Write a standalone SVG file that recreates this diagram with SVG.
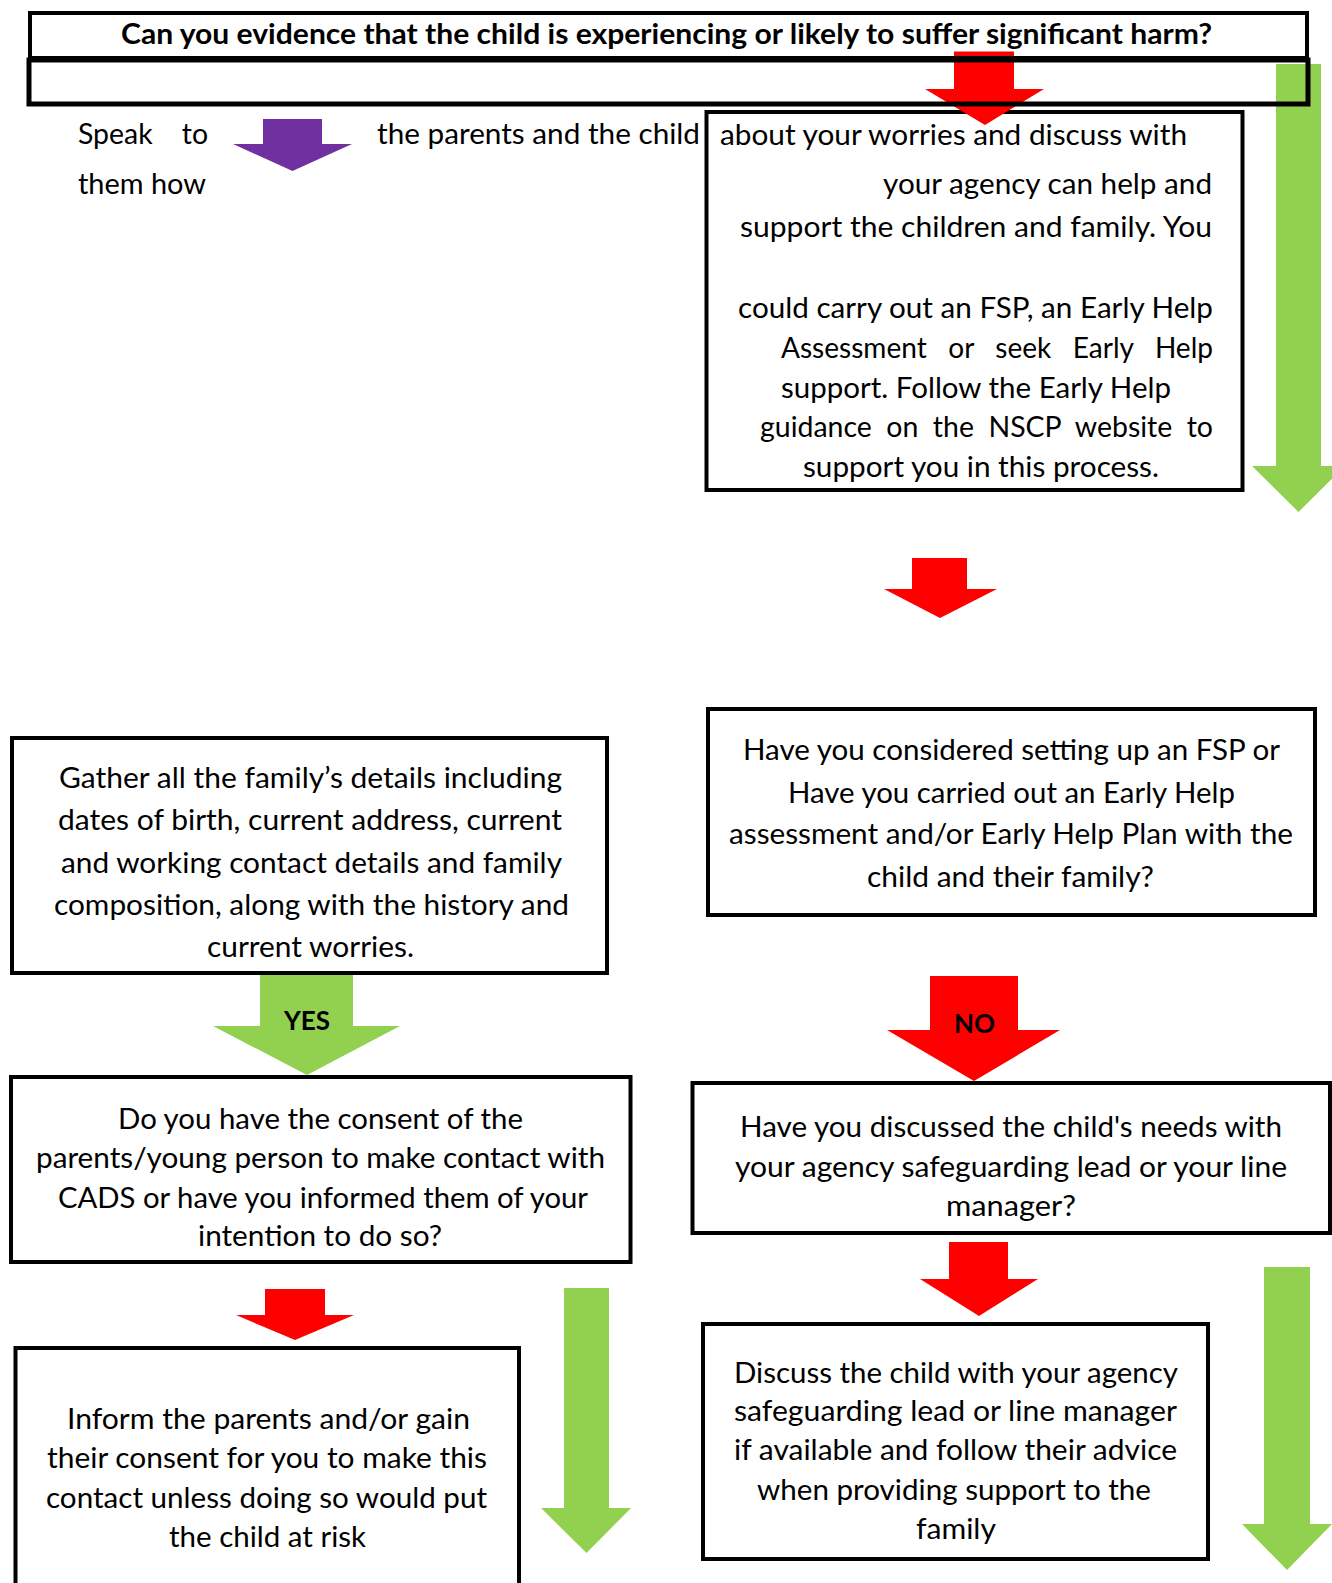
<svg xmlns="http://www.w3.org/2000/svg" width="1332" height="1583" viewBox="0 0 1332 1583">
<style>
.bg{fill:#ffffff}
.box{fill:none;stroke:#000;stroke-width:4}
.t{font-family:Lato,"Open Sans","Liberation Sans",sans-serif;font-size:28px;fill:#000}
.b{font-family:Lato,"Open Sans","Liberation Sans",sans-serif;font-weight:bold;fill:#000}
.pre{white-space:pre}
.red{fill:#FF0000}
.green{fill:#92D050}
.purple{fill:#7030A0}
</style>
<rect class="bg" x="0" y="0" width="1332" height="1583"/>

<g id="speak-text">
<text class="t pre" x="78" y="144" textLength="130" lengthAdjust="spacingAndGlyphs">Speak    to</text>
<text class="t" x="78" y="194" textLength="128" lengthAdjust="spacingAndGlyphs">them how</text>
<text class="t" x="377" y="144" textLength="323" lengthAdjust="spacingAndGlyphs">the parents and the child</text>
</g>

<g id="box-early-help">
<rect class="box" x="706.5" y="112" width="536" height="378"/>
<text class="t" x="720" y="145" textLength="467" lengthAdjust="spacingAndGlyphs">about your worries and discuss with</text>
<text class="t" x="883" y="194" textLength="329" lengthAdjust="spacingAndGlyphs">your agency can help and</text>
<text class="t" x="740" y="237" textLength="472" lengthAdjust="spacingAndGlyphs">support the children and family. You</text>
<text class="t" x="738" y="318" textLength="475" lengthAdjust="spacingAndGlyphs">could carry out an FSP, an Early Help</text>
<text class="t pre" x="781" y="358" textLength="432" lengthAdjust="spacingAndGlyphs">Assessment   or   seek   Early   Help</text>
<text class="t" x="781" y="398" textLength="390" lengthAdjust="spacingAndGlyphs">support. Follow the Early Help</text>
<text class="t pre" x="760" y="437" textLength="453" lengthAdjust="spacingAndGlyphs">guidance  on  the  NSCP  website  to</text>
<text class="t" x="803" y="477" textLength="356" lengthAdjust="spacingAndGlyphs">support you in this process.</text>
</g>

<g id="box-considered-fsp">
<rect class="box" x="708" y="709" width="607" height="206"/>
<text class="t" x="743" y="760" textLength="537" lengthAdjust="spacingAndGlyphs">Have you considered setting up an FSP or</text>
<text class="t" x="788" y="803" textLength="447" lengthAdjust="spacingAndGlyphs">Have you carried out an Early Help</text>
<text class="t" x="729" y="844" textLength="564" lengthAdjust="spacingAndGlyphs">assessment and/or Early Help Plan with the</text>
<text class="t" x="867" y="887" textLength="287" lengthAdjust="spacingAndGlyphs">child and their family?</text>
</g>

<g id="box-gather-details">
<rect class="box" x="12" y="738" width="595" height="235"/>
<text class="t" x="59" y="788" textLength="503" lengthAdjust="spacingAndGlyphs">Gather all the family’s details including</text>
<text class="t" x="58" y="830" textLength="504" lengthAdjust="spacingAndGlyphs">dates of birth, current address, current</text>
<text class="t" x="61" y="872.5" textLength="501" lengthAdjust="spacingAndGlyphs">and working contact details and family</text>
<text class="t" x="54" y="915" textLength="515" lengthAdjust="spacingAndGlyphs">composition, along with the history and</text>
<text class="t" x="207" y="957" textLength="207" lengthAdjust="spacingAndGlyphs">current worries.</text>
</g>

<g id="box-consent">
<rect class="box" x="11" y="1077" width="619.5" height="185"/>
<text class="t" x="118" y="1129" textLength="405" lengthAdjust="spacingAndGlyphs">Do you have the consent of the</text>
<text class="t" x="36" y="1168" textLength="569" lengthAdjust="spacingAndGlyphs">parents/young person to make contact with</text>
<text class="t" x="58" y="1208" textLength="530" lengthAdjust="spacingAndGlyphs">CADS or have you informed them of your</text>
<text class="t" x="198" y="1246" textLength="244" lengthAdjust="spacingAndGlyphs">intention to do so?</text>
</g>

<g id="box-discussed-needs">
<rect class="box" x="692.5" y="1083" width="637.5" height="150"/>
<text class="t" x="740" y="1137" textLength="542" lengthAdjust="spacingAndGlyphs">Have you discussed the child's needs with</text>
<text class="t" x="735" y="1176.5" textLength="552" lengthAdjust="spacingAndGlyphs">your agency safeguarding lead or your line</text>
<text class="t" x="946" y="1216" textLength="130" lengthAdjust="spacingAndGlyphs">manager?</text>
</g>

<g id="box-inform-parents">
<rect class="box" x="15.5" y="1348" width="503.5" height="260"/>
<text class="t" x="67" y="1429" textLength="403" lengthAdjust="spacingAndGlyphs">Inform the parents and/or gain</text>
<text class="t" x="47" y="1468" textLength="440" lengthAdjust="spacingAndGlyphs">their consent for you to make this</text>
<text class="t" x="46" y="1508" textLength="441" lengthAdjust="spacingAndGlyphs">contact unless doing so would put</text>
<text class="t" x="169" y="1547" textLength="197" lengthAdjust="spacingAndGlyphs">the child at risk</text>
</g>

<g id="box-discuss-child">
<rect class="box" x="703" y="1324" width="505" height="235"/>
<text class="t" x="734" y="1382.5" textLength="444" lengthAdjust="spacingAndGlyphs">Discuss the child with your agency</text>
<text class="t" x="734" y="1421" textLength="443" lengthAdjust="spacingAndGlyphs">safeguarding lead or line manager</text>
<text class="t" x="734" y="1460" textLength="443" lengthAdjust="spacingAndGlyphs">if available and follow their advice</text>
<text class="t" x="757" y="1500" textLength="394" lengthAdjust="spacingAndGlyphs">when providing support to the</text>
<text class="t" x="916" y="1539" textLength="80" lengthAdjust="spacingAndGlyphs">family</text>
</g>

<g id="connectors">
<polygon class="purple" points="263,119 322,119 322,144 352,144 292.5,171 233,144 263,144"/>
<polygon class="red" points="954,51.5 1014,51.5 1014,89 1044,89 985,125 925,89 954,89"/>
<polygon class="green" points="1276,64 1321,64 1321,466 1345,466 1298.5,512 1252,466 1276,466"/>
<polygon class="red" points="912,558 967,558 967,589 997,589 940,618 884,589 912,589"/>
<polygon class="green" points="260,975 353,975 353,1026 400,1026 307,1075 213,1026 260,1026"/>
<polygon class="red" points="930,976 1018,976 1018,1030 1060,1030 974,1081 887,1030 930,1030"/>
<polygon class="red" points="265,1289 325,1289 325,1315 354,1315 295,1340 236,1315 265,1315"/>
<polygon class="red" points="949,1242 1008,1242 1008,1279 1038,1279 979,1316 920,1279 949,1279"/>
<polygon class="green" points="564,1288 609,1288 609,1508 631,1508 586.5,1553 541,1508 564,1508"/>
<polygon class="green" points="1264,1267 1310,1267 1310,1524 1332,1524 1287,1570 1242,1524 1264,1524"/>
<text class="b" x="284" y="1030" font-size="26" textLength="46" lengthAdjust="spacingAndGlyphs">YES</text>
<text class="b" x="954" y="1033" font-size="26" textLength="41" lengthAdjust="spacingAndGlyphs">NO</text>
</g>

<g id="box-significant-harm">
<rect class="box" x="30" y="13" width="1277" height="45"/>
<rect class="box" x="29" y="60" width="1279" height="44" style="stroke-width:5"/>
<text class="b" x="121" y="44" font-size="28" textLength="1091" lengthAdjust="spacingAndGlyphs">Can you evidence that the child is experiencing or likely to suffer significant harm?</text>
</g>
</svg>
